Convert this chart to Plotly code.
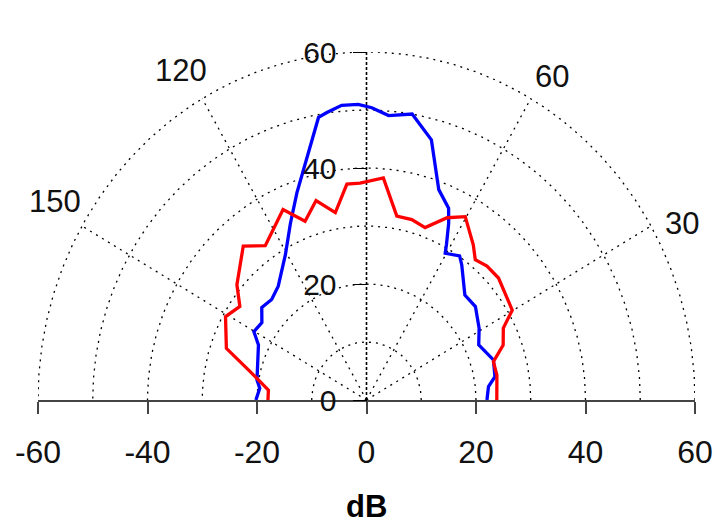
import numpy as np
import plotly.graph_objects as go

# ---- data (polar: angle in degrees, radius in dB) ----
blue_theta = [0, 5.9, 9.7, 16.6, 24.9, 31.0, 39.0, 45.2, 53.3, 55.6, 60.4, 61.4, 63.8, 65.6,
              70.0, 73.0, 75.2, 80.4, 85.3, 88.9, 91.7, 95.1, 98.3, 100.2, 105.3, 109.6,
              114.5, 120.6, 129.4, 135.0, 140.2, 145.1, 150.2, 154.3, 170.2, 174.1, 180]
blue_r = [22.0, 22.4, 23.8, 24.2, 22.6, 24.0, 25.6, 25.5, 29.1, 30.1, 29.1, 30.5, 34.0, 36.3,
          38.6, 42.8, 46.4, 50.0, 49.2, 50.4, 51.0, 51.0, 50.1, 49.5, 42.4, 37.9,
          33.5, 29.1, 25.4, 24.5, 24.9, 23.3, 23.7, 21.9, 20.3, 19.6, 20.2]

red_theta = [0, 10.2, 15.9, 20.8, 26.4, 30.2, 41.1, 46.4, 50.6, 53.9, 60.3, 64.9, 70.2, 75.1,
             80.1, 85.4, 91.8, 95.5, 100.0, 105.0, 110.0, 114.9, 124.8, 130.3, 140.0, 145.1,
             150.8, 160.8, 167.0, 174.6, 180]
red_r = [23.8, 24.2, 24.1, 26.7, 27.9, 30.8, 32.0, 31.9, 31.3, 33.1, 36.4, 34.7, 31.6, 32.2,
         32.2, 38.4, 37.4, 37.4, 32.8, 35.6, 32.8, 36.2, 32.4, 34.8, 30.9, 28.2,
         29.5, 27.1, 21.8, 18.0, 18.0]

ring_radii = [10, 20, 30, 40, 50, 60]
spoke_angles = [30, 60, 120, 150]
angle_labels = ["30", "60", "90", "120", "150"]
x_ticks = [-60, -40, -20, 0, 20, 40, 60]
x_ticktext = ["-60", "-40", "-20", "0", "20", "40", "60"]
r_ticks = [0, 20, 40, 60]
r_max = 60
x_title = "dB"

def to_xy(theta_deg, r):
    t = np.radians(np.asarray(theta_deg, dtype=float))
    r = np.asarray(r, dtype=float)
    return r * np.cos(t), r * np.sin(t)

fig = go.Figure()

DOT = "2px,5px"
FONT = "Liberation Sans, Arial"
# grid rings
tt = np.linspace(0, 180, 361)
for rr in ring_radii:
    gx, gy = to_xy(tt, np.full_like(tt, rr))
    fig.add_trace(go.Scatter(x=gx, y=gy, mode="lines", hoverinfo="skip",
                             line=dict(color="black", width=1.3, dash=DOT)))
# spokes
for a in spoke_angles:
    sx, sy = to_xy([a, a], [0, r_max])
    fig.add_trace(go.Scatter(x=sx, y=sy, mode="lines", hoverinfo="skip",
                             line=dict(color="black", width=1.3, dash=DOT)))
# 90 degree line
sx, sy = to_xy([90, 90], [0, r_max])
fig.add_trace(go.Scatter(x=sx, y=sy, mode="lines", hoverinfo="skip",
                         line=dict(color="black", width=1.6, dash="3px,2px")))

# data curves
bx, by = to_xy(blue_theta, blue_r)
fig.add_trace(go.Scatter(x=bx, y=by, mode="lines", line=dict(color="#0000FF", width=3.3)))
rx, ry = to_xy(red_theta, red_r)
fig.add_trace(go.Scatter(x=rx, y=ry, mode="lines", line=dict(color="#FF0000", width=3.3)))

# angle labels (placed at measured positions)
lab_pos = {"30": (57.7, 30.4), "60": (33.9, 55.8), "90": (0.7, 64.9),
           "120": (-33.8, 56.8), "150": (-56.9, 34.2)}
for lab in angle_labels:
    x0, y0 = lab_pos[lab]
    fig.add_annotation(x=x0, y=y0, text=lab, showarrow=False, xref="x", yref="y",
                       font=dict(family=FONT, size=31, color="#111"))

# x-axis title
fig.add_annotation(x=0, y=-0.3592, xref="x", yref="paper", text=x_title, showarrow=False,
                   yanchor="bottom", borderpad=0,
                   font=dict(family=FONT, size=31, color="black", weight="bold"))

fig.update_layout(
    width=713, height=525,
    margin=dict(l=38, r=18, t=52, b=125, autoexpand=False),
    paper_bgcolor="white", plot_bgcolor="white",
    showlegend=False,
    xaxis=dict(range=[-60, 60], tickvals=x_ticks, ticktext=x_ticktext,
               showgrid=False, zeroline=False, automargin=False,
               showline=True, linecolor="#444", linewidth=1.5,
               ticks="outside", ticklen=12, tickwidth=1.5, tickcolor="#444",
               ticklabelstandoff=11,
               tickfont=dict(family=FONT, size=32, color="#111")),
    yaxis=dict(range=[0, 60], tickvals=r_ticks, showgrid=False, zeroline=False,
               showline=False, anchor="free", position=0.5, automargin=False,
               ticks="outside", ticklen=14, tickwidth=1.2, tickcolor="black",
               ticklabelstandoff=10,
               tickfont=dict(family=FONT, size=30, color="#111")),
)

fig.write_html("out.html")
